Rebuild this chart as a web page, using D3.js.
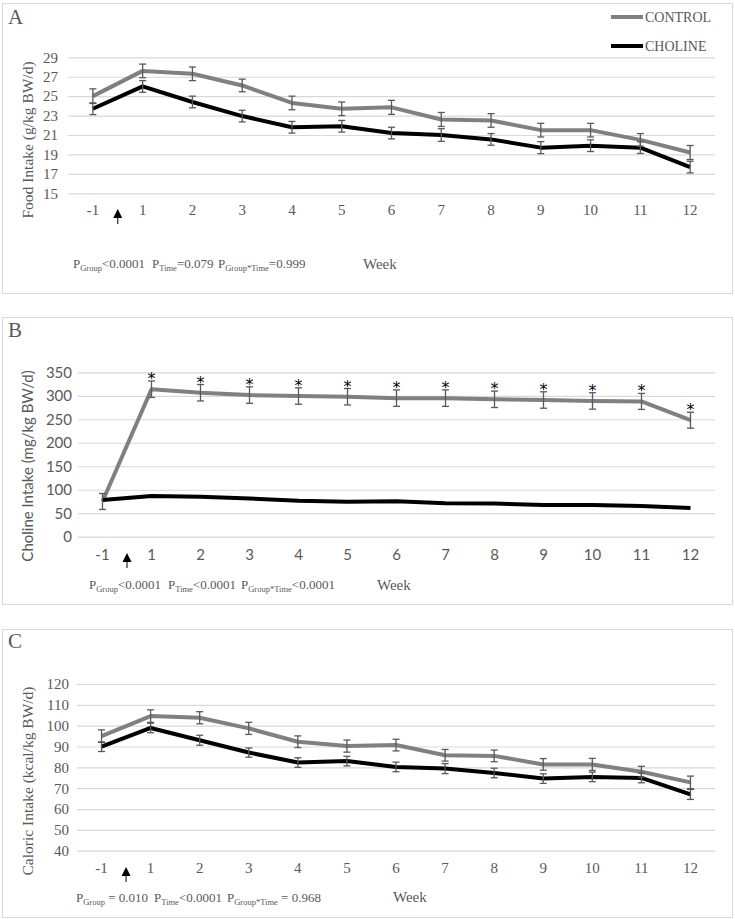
<!DOCTYPE html>
<html>
<head>
<meta charset="utf-8">
<script src="https://cdn.jsdelivr.net/npm/d3@7/dist/d3.min.js"></script>
<style>
body { margin: 0; background: #fff; }
svg { display: block; }
</style>
</head>
<body>
<script>
// ---------- DATA ----------
const weeks = ["-1", "1", "2", "3", "4", "5", "6", "7", "8", "9", "10", "11", "12"];
const seriesNames = ["CONTROL", "CHOLINE"];

// Panel A: Food intake (g/kg BW/d)
const foodControl    = [25.0, 27.6, 27.3, 26.1, 24.3, 23.7, 23.85, 22.6, 22.5, 21.5, 21.5, 20.5, 19.2];
const foodControlErr = [0.75, 0.7, 0.7, 0.65, 0.7, 0.7, 0.72, 0.72, 0.7, 0.7, 0.7, 0.65, 0.72];
const foodCholine    = [23.7, 26.0, 24.4, 22.95, 21.8, 21.9, 21.2, 21.0, 20.55, 19.7, 19.9, 19.7, 17.7];
const foodCholineErr = [0.6, 0.6, 0.6, 0.6, 0.6, 0.6, 0.6, 0.65, 0.6, 0.62, 0.6, 0.6, 0.6];
const foodTicks = [15, 17, 19, 21, 23, 25, 27, 29];

// Panel B: Choline intake (mg/kg BW/d)
const cholControl    = [75, 314, 306.5, 301.5, 299.5, 298, 295, 295, 292.5, 291, 289, 288, 248];
const cholControlErr = [17, 17.5, 17.5, 17.5, 17.5, 17.5, 17.5, 17.5, 17.5, 17.5, 17.5, 17, 17];
const cholCholine    = [78, 86.5, 85, 81.5, 76.5, 74.5, 75.5, 71, 70.5, 67.5, 67.5, 65.5, 61];
const cholSignif     = ["", "*", "*", "*", "*", "*", "*", "*", "*", "*", "*", "*", "*"];
const cholTicks = [0, 50, 100, 150, 200, 250, 300, 350];

// Panel C: Caloric intake (kcal/kg BW/d)
const calControl    = [95.0, 104.6, 103.8, 98.7, 92.3, 90.2, 90.7, 85.8, 85.5, 81.4, 81.4, 77.9, 72.8];
const calControlErr = [3.0, 3.0, 2.9, 2.9, 2.8, 2.9, 2.8, 2.8, 2.8, 2.8, 2.9, 2.6, 3.0];
const calCholine    = [89.9, 98.9, 93.0, 87.1, 82.3, 83.0, 80.2, 79.4, 77.3, 74.6, 75.4, 74.9, 67.0];
const calCholineErr = [2.3, 2.3, 2.4, 2.2, 2.3, 2.3, 2.3, 2.4, 2.3, 2.3, 2.3, 2.3, 2.4];
const calTicks = [40, 50, 60, 70, 80, 90, 100, 110, 120];

// ---------- DRAWING ----------
const W = 735, H = 919;
const SERIF = "'Liberation Serif', 'Times New Roman', serif";
const SANS = "Lato, 'Liberation Sans', Arial, sans-serif";
const TXT = "#595959";
const GRID = "#d9d9d9";
const CTRL_COLOR = "#808080";
const CHOL_COLOR = "#000000";

const svg = d3.select("body").append("svg").attr("width", W).attr("height", H);

function panel(cfg) {
  const g = svg.append("g");
  // frame
  g.append("rect")
    .attr("x", 2.5).attr("y", cfg.frameTop + 0.5)
    .attr("width", 730).attr("height", cfg.frameBottom - cfg.frameTop)
    .attr("fill", "none").attr("stroke", GRID).attr("stroke-width", 1);

  const x = d3.scaleBand().domain(weeks).range([cfg.x0, cfg.x1]);
  const y = d3.scaleLinear().domain(cfg.domain).range([cfg.yBottom, cfg.yTop]);
  const cx = d => x(d) + x.bandwidth() / 2;

  // gridlines + y tick labels via axis
  const yAxis = d3.axisLeft(y).tickValues(cfg.ticks).tickSize(-(cfg.x1 - cfg.x0)).tickPadding(cfg.tickPad);
  const ya = g.append("g").attr("transform", `translate(${cfg.x0},0)`).call(yAxis);
  ya.attr("font-family", null);
  ya.select(".domain").remove();
  ya.selectAll(".tick line").attr("stroke", GRID).attr("stroke-width", 1.2);
  ya.selectAll(".tick text").attr("fill", TXT).style("font-family", cfg.tickFont).style("font-size", cfg.tickSize + "px");

  // x tick labels via axis
  const xAxis = d3.axisBottom(x).tickSize(0).tickPadding(0);
  const xa = g.append("g").attr("transform", `translate(0,${cfg.xLabelY})`).call(xAxis);
  xa.attr("font-family", null);
  xa.select(".domain").remove();
  xa.selectAll(".tick text").attr("fill", TXT).attr("dy", "0.32em").style("font-family", cfg.tickFont).style("font-size", cfg.tickSize + "px");

  // y title
  g.append("text")
    .attr("transform", `translate(${cfg.titleX},${cfg.titleY}) rotate(-90)`)
    .attr("text-anchor", "middle")
    .attr("fill", TXT)
    .style("font-family", cfg.titleFont).style("font-size", cfg.titleSize + "px")
    .text(cfg.title);

  // panel letter
  g.append("text").attr("x", 8).attr("y", cfg.letterY).attr("fill", TXT)
    .style("font-family", SERIF).style("font-size", "21px").text(cfg.letter);

  // lines
  const line = d3.line().x((d, i) => cx(weeks[i])).y(d => y(d));
  g.append("path").datum(cfg.ctrl).attr("d", line).attr("fill", "none")
    .attr("stroke", CTRL_COLOR).attr("stroke-width", 4).attr("stroke-linejoin", "round");
  g.append("path").datum(cfg.chol).attr("d", line).attr("fill", "none")
    .attr("stroke", CHOL_COLOR).attr("stroke-width", 4).attr("stroke-linejoin", "round");

  // error bars
  function errBars(vals, errs) {
    if (!errs) return;
    const eg = g.append("g").attr("stroke", "#595959").attr("stroke-width", 1.3).attr("fill", "none");
    vals.forEach((v, i) => {
      const xx = cx(weeks[i]);
      const t = y(v + errs[i]), b = y(v - errs[i]);
      eg.append("line").attr("x1", xx).attr("x2", xx).attr("y1", t).attr("y2", b);
      eg.append("line").attr("x1", xx - 3.5).attr("x2", xx + 3.5).attr("y1", t).attr("y2", t);
      eg.append("line").attr("x1", xx - 3.5).attr("x2", xx + 3.5).attr("y1", b).attr("y2", b);
    });
  }
  errBars(cfg.ctrl, cfg.ctrlErr);
  errBars(cfg.chol, cfg.cholErr);

  // significance stars
  if (cfg.signif) {
    cfg.signif.forEach((s, i) => {
      if (!s) return;
      g.append("text").attr("x", cx(weeks[i])).attr("y", y(cfg.ctrl[i] + cfg.ctrlErr[i]) + 3)
        .attr("text-anchor", "middle").attr("fill", "#000")
        .style("font-family", "'DejaVu Sans', sans-serif").style("font-size", "16px").text(s);
    });
  }

  // arrow between week -1 and week 1
  const ax = x(weeks[0]) + x.bandwidth();
  const at = cfg.arrowY;
  g.append("path")
    .attr("d", `M${ax},${at} L${ax - 4.5},${at + 9} L${ax + 4.5},${at + 9} Z`)
    .attr("fill", "#000");
  g.append("line").attr("x1", ax).attr("x2", ax).attr("y1", at + 8).attr("y2", at + 15)
    .attr("stroke", "#000").attr("stroke-width", 1);

  // p-values
  cfg.pvals.forEach(p => {
    const t = g.append("text").attr("x", p.x).attr("y", cfg.pY).attr("fill", TXT)
      .style("font-family", SERIF).style("font-size", "13px");
    t.append("tspan").text("P");
    t.append("tspan").attr("dy", 3).style("font-size", "8.5px").text(p.sub);
    t.append("tspan").attr("dy", -3).text(p.rest);
  });

  // x title
  g.append("text").attr("x", cfg.weekX).attr("y", cfg.weekY).attr("fill", TXT)
    .style("font-family", SERIF).style("font-size", "15px").text("Week");

  return { g, x, y };
}

// Panel A
const pA = panel({
  frameTop: 3, frameBottom: 293,
  x0: 68, x1: 715, yTop: 57.3, yBottom: 193.3, domain: [15, 29], ticks: foodTicks,
  tickPad: 10, tickFont: SERIF, tickSize: 15, xLabelY: 210,
  title: "Food Intake (g/kg BW/d)", titleFont: SERIF, titleSize: 15.5, titleX: 33, titleY: 140,
  letter: "A", letterY: 24,
  ctrl: foodControl, ctrlErr: foodControlErr, chol: foodCholine, cholErr: foodCholineErr,
  arrowY: 209,
  pY: 268,
  pvals: [
    { x: 73, sub: "Group", rest: "<0.0001" },
    { x: 152, sub: "Time", rest: "=0.079" },
    { x: 218, sub: "Group*Time", rest: "=0.999" }
  ],
  weekX: 363, weekY: 269
});

// legend in panel A
const legendItems = [
  { name: seriesNames[0], color: CTRL_COLOR, y: 17 },
  { name: seriesNames[1], color: CHOL_COLOR, y: 46 }
];
legendItems.forEach(it => {
  pA.g.append("line").attr("x1", 611).attr("x2", 643).attr("y1", it.y).attr("y2", it.y)
    .attr("stroke", it.color).attr("stroke-width", 4);
  pA.g.append("text").attr("x", 645).attr("y", it.y).attr("dy", "0.35em").attr("fill", TXT)
    .style("font-family", SERIF).style("font-size", "14px").text(it.name);
});

// Panel B
panel({
  frameTop: 317, frameBottom: 604,
  x0: 78, x1: 715, yTop: 372.3, yBottom: 536.7, domain: [0, 350], ticks: cholTicks,
  tickPad: 6, tickFont: SANS, tickSize: 15, xLabelY: 555,
  title: "Choline Intake (mg/kg BW/d)", titleFont: SANS, titleSize: 15, titleX: 33, titleY: 466,
  letter: "B", letterY: 337,
  ctrl: cholControl, ctrlErr: cholControlErr, chol: cholCholine, cholErr: null,
  signif: cholSignif,
  arrowY: 553,
  pY: 589,
  pvals: [
    { x: 89, sub: "Group", rest: "<0.0001" },
    { x: 168, sub: "Time", rest: "<0.0001" },
    { x: 241, sub: "Group*Time", rest: "<0.0001" }
  ],
  weekX: 377, weekY: 590
});

// Panel C
panel({
  frameTop: 629, frameBottom: 917,
  x0: 77, x1: 715, yTop: 684, yBottom: 850.7, domain: [40, 120], ticks: calTicks,
  tickPad: 8, tickFont: SERIF, tickSize: 15, xLabelY: 868,
  title: "Caloric Intake (kcal/kg BW/d)", titleFont: SERIF, titleSize: 15.5, titleX: 33, titleY: 781,
  letter: "C", letterY: 648,
  ctrl: calControl, ctrlErr: calControlErr, chol: calCholine, cholErr: calCholineErr,
  arrowY: 867,
  pY: 902,
  pvals: [
    { x: 76, sub: "Group", rest: " = 0.010" },
    { x: 154, sub: "Time", rest: "<0.0001" },
    { x: 227, sub: "Group*Time", rest: " = 0.968" }
  ],
  weekX: 393, weekY: 902
});
</script>
</body>
</html>
